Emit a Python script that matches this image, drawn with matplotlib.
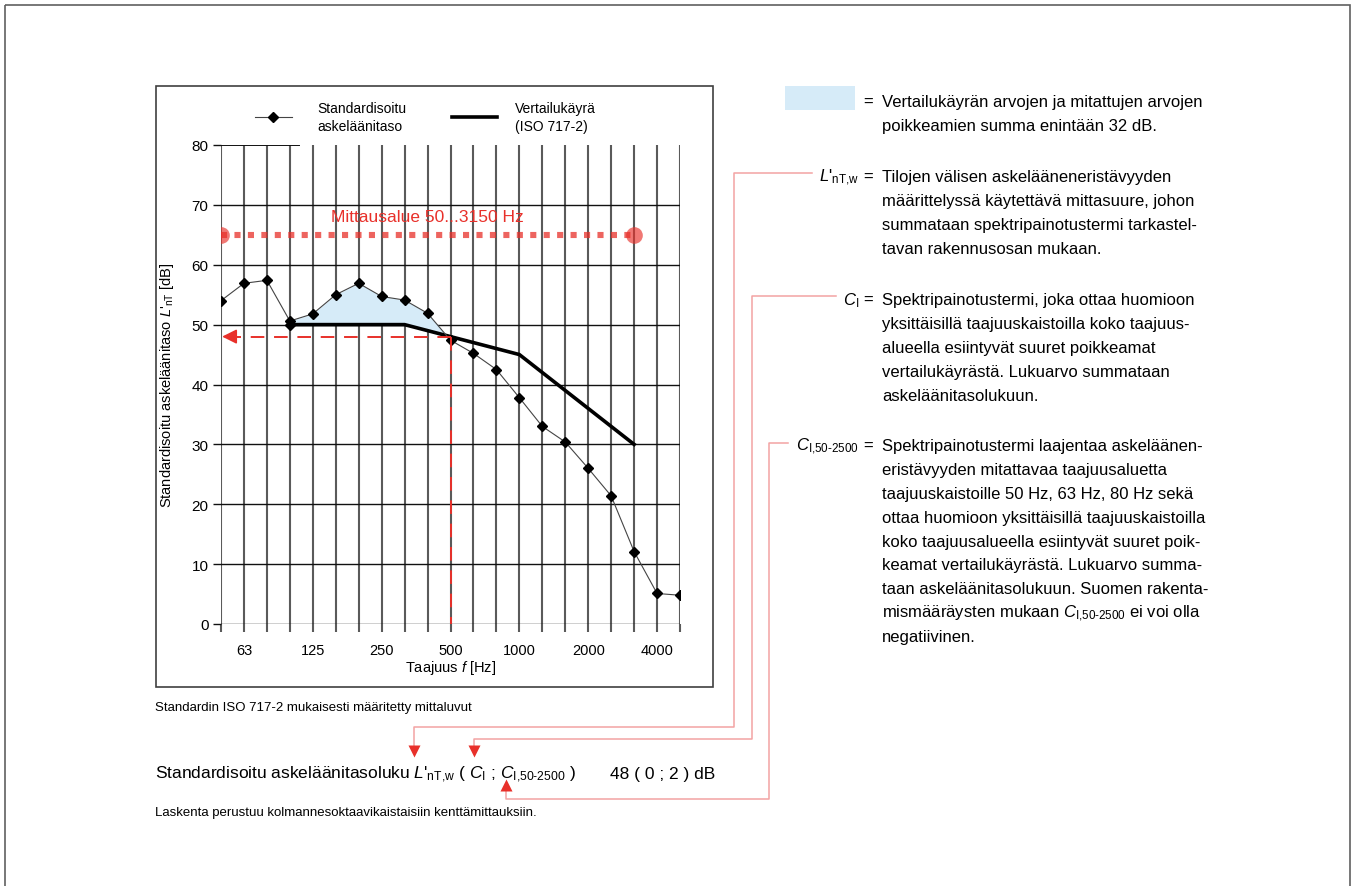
import numpy as np
import matplotlib
matplotlib.use("Agg")
import matplotlib.pyplot as plt
from matplotlib.patches import Rectangle
from matplotlib.lines import Line2D

plt.rcParams['font.family'] = ['Liberation Sans', 'DejaVu Sans']
plt.rcParams['mathtext.fontset'] = 'custom'
plt.rcParams['mathtext.rm'] = 'Liberation Sans'
plt.rcParams['mathtext.it'] = 'Liberation Sans:italic'
plt.rcParams['mathtext.bf'] = 'Liberation Sans:bold'

# third-octave bands 50 ... 5000 Hz
freqs = [50, 63, 80, 100, 125, 160, 200, 250, 315, 400, 500, 630, 800,
         1000, 1250, 1600, 2000, 2500, 3150, 4000, 5000]
tick_labels = ['63', '125', '250', '500', '1000', '2000', '4000']

# measured standardised impact sound level L'nT
measured = [54.0, 56.9, 57.4, 50.6, 51.8, 55.0, 56.9, 54.7, 54.1, 51.9, 47.4,
            45.2, 42.5, 37.8, 33.0, 30.4, 26.0, 21.4, 12.1, 5.1, 4.8]

# shifted reference curve ISO 717-2, 100 ... 3150 Hz
ref_freqs = [100, 125, 160, 200, 250, 315, 400, 500, 630, 800, 1000,
             1250, 1600, 2000, 2500, 3150]
reference = [50, 50, 50, 50, 50, 50, 49, 48, 47, 46, 45, 42, 39, 36, 33, 30]

rating = 48          # L'nT,w
range_level = 65     # level of the measuring range marker
range_lo, range_hi = 50, 3150

idx = {f: i for i, f in enumerate(freqs)}
x = np.arange(len(freqs))
xr = np.array([idx[f] for f in ref_freqs])
ref = np.array(reference, dtype=float)
meas_r = np.array([measured[idx[f]] for f in ref_freqs])

W, H = 1355, 887
fig = plt.figure(figsize=(W / 100, H / 100), dpi=100)

# overlay in pixel units for frames, notes and connectors
ov = fig.add_axes([0, 0, 1, 1], zorder=0)
ov.set_xlim(0, W)
ov.set_ylim(H, 0)
ov.axis('off')

x0, x1, y0, y1 = 221, 680, 146, 625
ax = fig.add_axes([x0 / W, 1 - y1 / H, (x1 - x0) / W, (y1 - y0) / H], zorder=2)
ax.patch.set_alpha(0)
ax.set_xlim(0, len(freqs) - 1)
ax.set_ylim(0, 80)
for s in ax.spines.values():
    s.set_visible(False)

# grid
for i in x:
    ax.plot([i, i], [0, 80], color='#5a5a5a', lw=1.5, zorder=1, solid_capstyle='butt')
for v in range(0, 80, 10):
    ax.axhline(v, color='#111111', lw=1.0, zorder=1)
ax.plot([0, idx[100] + 0.4], [80, 80], color='#111111', lw=1.4, zorder=1)

ax.set_xticks(x)
ax.set_xticklabels([f if f in tick_labels else '' for f in map(str, freqs)])
ax.set_yticks(range(0, 81, 10))
ax.tick_params(axis='x', length=6, width=1.5, color='#5a5a5a', labelsize=10.5, pad=8)
ax.tick_params(axis='y', length=6, width=1.0, color='#111111', labelsize=11, pad=3)

# shaded unfavourable deviations
ax.fill_between(xr, meas_r, ref, where=meas_r > ref, interpolate=True,
                color='#d6ebf8', zorder=2, lw=0)

ax.plot(xr, ref, color='black', lw=2.6, zorder=4)
ax.plot(xr[:1], ref[:1], 'D', color='black', ms=5, zorder=5)
ax.plot(x, measured, color='#444444', lw=0.8, marker='D', ms=5,
        mfc='black', mec='black', zorder=5)

# measuring range
ax.plot([idx[range_lo], idx[range_hi]], [range_level, range_level], color='#e8302a',
        alpha=0.75, lw=4.4, ls=(0, (1, 1.2)), zorder=3)
ax.plot([idx[range_lo], idx[range_hi]], [range_level, range_level], 'o', color='#e8302a',
        alpha=0.65, ms=12, mec='none', zorder=3)
ax.text((idx[range_lo] + idx[range_hi]) / 2, 66.8, 'Mittausalue 50...3150 Hz',
        color='#e8302a', fontsize=12.5, ha='center', va='bottom', zorder=6)

# rating read at 500 Hz
ax.plot([idx[500], 0.55], [rating, rating], color='#e8302a', lw=1.4,
        ls=(0, (7, 5)), zorder=6)
ax.plot([idx[500], idx[500]], [rating, 0], color='#e8302a', lw=1.4,
        ls=(0, (7, 5)), zorder=6)
ax.annotate('', xy=(0.05, rating), xytext=(0.65, rating),
            arrowprops=dict(arrowstyle='-|>', color='#e8302a', lw=1.2,
                            mutation_scale=22, shrinkA=0, shrinkB=0), zorder=6)

ax.set_xlabel('Taajuus $f$ [Hz]', fontsize=10.5)
ax.xaxis.set_label_coords(0.5, -0.072)
ax.set_ylabel("Standardisoitu askeläänitaso $L$'${}_{\\mathrm{nT}}$ [dB]", fontsize=10.5)
ax.yaxis.set_label_coords(-0.098, 0.5)

# frames
ov.add_patch(Rectangle((4.5, 5.5), 1345, 900, fill=False, ec='#606060', lw=1.2))
ov.add_patch(Rectangle((156, 87), 557, 601, fill=False, ec='#404040', lw=1.2))

# legend inside chart box
ov.add_line(Line2D([255, 292], [118, 118], color='#444444', lw=0.8))
ov.plot([273], [118], 'D', color='black', ms=5)
ov.text(317, 118, 'Standardisoitu\naskeläänitaso', fontsize=10, va='center',
        linespacing=1.45)
ov.add_line(Line2D([452, 497], [118, 118], color='black', lw=2.6))
ov.text(515, 118, 'Vertailukäyrä\n(ISO 717-2)', fontsize=10, va='center',
        linespacing=1.45)

# explanations on the right
C50 = '$C_{\\mathrm{I{,}50\\text{-}2500}}$'
TX = 882
FS = 12
LS = 23.9
blocks = [
    (107, None, ['Vertailukäyrän arvojen ja mitattujen arvojen',
                 'poikkeamien summa enintään 32 dB.']),
    (182, "$L$'${}_{\\mathrm{nT{,}w}}$", ['Tilojen välisen askeläänenerist\u00e4vyyden',
                  'määrittelyssä käytettävä mittasuure, johon',
                  'summataan spektripainotustermi tarkastel-',
                  'tavan rakennusosan mukaan.']),
    (305, '$C_{\\mathrm{I}}$', ['Spektripainotustermi, joka ottaa huomioon',
                  'yksittäisillä taajuuskaistoilla koko taajuus-',
                  'alueella esiintyvät suuret poikkeamat',
                  'vertailukäyrästä. Lukuarvo summataan',
                  'askeläänitasolukuun.']),
    (451, C50, ['Spektripainotustermi laajentaa askeläänen-',
                'eristävyyden mitattavaa taajuusaluetta',
                'taajuuskaistoille 50 Hz, 63 Hz, 80 Hz sekä',
                'ottaa huomioon yksittäisillä taajuuskaistoilla',
                'koko taajuusalueella esiintyvät suuret poik-',
                'keamat vertailukäyrästä. Lukuarvo summa-',
                'taan askeläänitasolukuun. Suomen rakenta-',
                'mismääräysten mukaan ' + C50 + ' ei voi olla',
                'negatiivinen.']),
]
ov.add_patch(Rectangle((785, 87), 70, 24, color='#d6ebf8', lw=0))
for base, sym, lines in blocks:
    ov.text(873, base, '=', fontsize=FS, ha='right', va='baseline')
    if sym:
        ov.text(859, base, sym, fontsize=FS, ha='right', va='baseline')
    for k, ln in enumerate(lines):
        ov.text(TX, base + k * LS, ln, fontsize=FS, va='baseline')

# bottom summary
ov.text(155, 711, 'Standardin ISO 717-2 mukaisesti määritetty mittaluvut', fontsize=9.5,
        va='baseline')
ov.text(155, 779, "Standardisoitu askeläänitasoluku $L$'${}_{\\mathrm{nT{,}w}}$ ( $C_{\\mathrm{I}}$ ; "
        + C50 + " )", fontsize=12.5, va='baseline')
ov.text(610, 779, '48 ( 0 ; 2 ) dB', fontsize=12.5, va='baseline')
ov.text(155, 816, 'Laskenta perustuu kolmannesoktaavikaistaisiin kenttämittauksiin.',
        fontsize=9.5, va='baseline')

# connectors from the symbols to the summary line
pink = '#f3a3a3'
red = '#e8302a'
conn = [
    ([812, 734, 734, 414, 414], [174, 174, 728, 728, 748], 'v', 752),
    ([836, 752, 752, 474, 474], [297, 297, 740, 740, 748], 'v', 752),
    ([788, 769, 769, 506, 506], [444, 444, 800, 800, 790], '^', 786),
]
for xs, ys, mk, my in conn:
    ov.add_line(Line2D(xs, ys, color=pink, lw=1.1))
    ov.plot([xs[-1]], [my], mk, color=red, ms=9, mec='none')

fig.savefig('out.png', dpi=100)
